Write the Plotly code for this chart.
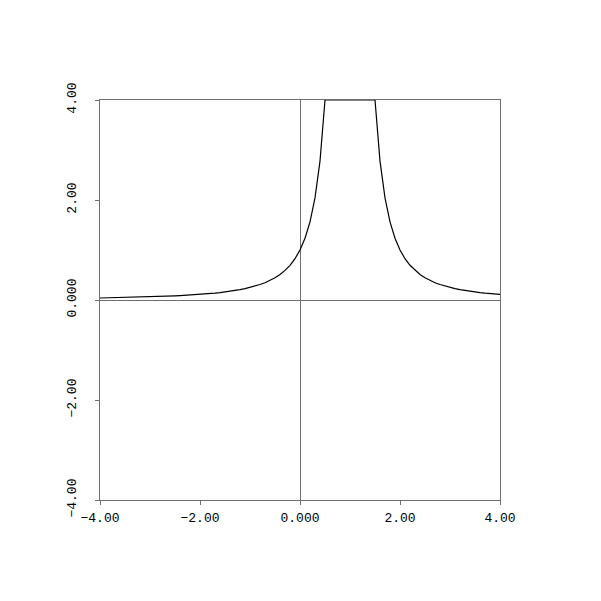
import plotly.graph_objects as go

x_vals = [-4.0, -3.9, -3.8, -3.7, -3.6, -3.5, -3.4, -3.3, -3.2, -3.1,
          -3.0, -2.9, -2.8, -2.7, -2.6, -2.5, -2.4, -2.3, -2.2, -2.1,
          -2.0, -1.9, -1.8, -1.7, -1.6, -1.5, -1.4, -1.3, -1.2, -1.1,
          -1.0, -0.9, -0.8, -0.7, -0.6, -0.5, -0.4, -0.3, -0.2, -0.1,
          0.0, 0.1, 0.2, 0.3, 0.4, 0.5, 0.6, 0.7, 0.8, 0.9,
          1.0, 1.1, 1.2, 1.3, 1.4, 1.5, 1.6, 1.7, 1.8, 1.9,
          2.0, 2.1, 2.2, 2.3, 2.4, 2.5, 2.6, 2.7, 2.8, 2.9,
          3.0, 3.1, 3.2, 3.3, 3.4, 3.5, 3.6, 3.7, 3.8, 3.9, 4.0]
y_vals = [0.040, 0.042, 0.043, 0.045, 0.047, 0.049, 0.052, 0.054, 0.057, 0.060,
          0.063, 0.066, 0.069, 0.073, 0.077, 0.082, 0.087, 0.092, 0.098, 0.104,
          0.111, 0.119, 0.128, 0.137, 0.148, 0.160, 0.174, 0.189, 0.207, 0.227,
          0.250, 0.277, 0.309, 0.346, 0.391, 0.444, 0.510, 0.592, 0.694, 0.826,
          1.000, 1.235, 1.563, 2.041, 2.778, 4.000, 4.000, 4.000, 4.000, 4.000,
          4.000, 4.000, 4.000, 4.000, 4.000, 4.000, 2.778, 2.041, 1.563, 1.235,
          1.000, 0.826, 0.694, 0.592, 0.510, 0.444, 0.391, 0.346, 0.309, 0.277,
          0.250, 0.227, 0.207, 0.189, 0.174, 0.160, 0.148, 0.137, 0.128, 0.119, 0.111]

tick_vals = [-4, -2, 0, 2, 4]
tick_text = ["\u22124.00", "\u22122.00", "0.000", "2.00", "4.00"]

axis_color = "#6e6e6e"
font = dict(family="Liberation Mono, DejaVu Sans Mono, monospace", size=13, color="black")

fig = go.Figure()
fig.add_trace(go.Scatter(x=x_vals, y=y_vals, mode="lines",
                         line=dict(color="black", width=1.2), showlegend=False))

common = dict(range=[-4, 4], tickvals=tick_vals, ticktext=tick_text,
              showgrid=False, zeroline=True, zerolinecolor=axis_color, zerolinewidth=1.3,
              showline=True, mirror=True, linecolor=axis_color, linewidth=1.3,
              ticks="outside", ticklen=4, tickcolor=axis_color, tickwidth=1.3,
              tickfont=font, fixedrange=True)

fig.update_xaxes(**common, ticklabelstandoff=1)
fig.update_yaxes(**common, tickangle=-90, ticklabelstandoff=14)

fig.update_layout(width=601, height=601,
                  margin=dict(l=92, r=109, t=92, b=109),
                  paper_bgcolor="white", plot_bgcolor="white",
                  font=font)

fig.write_html("out.html")
